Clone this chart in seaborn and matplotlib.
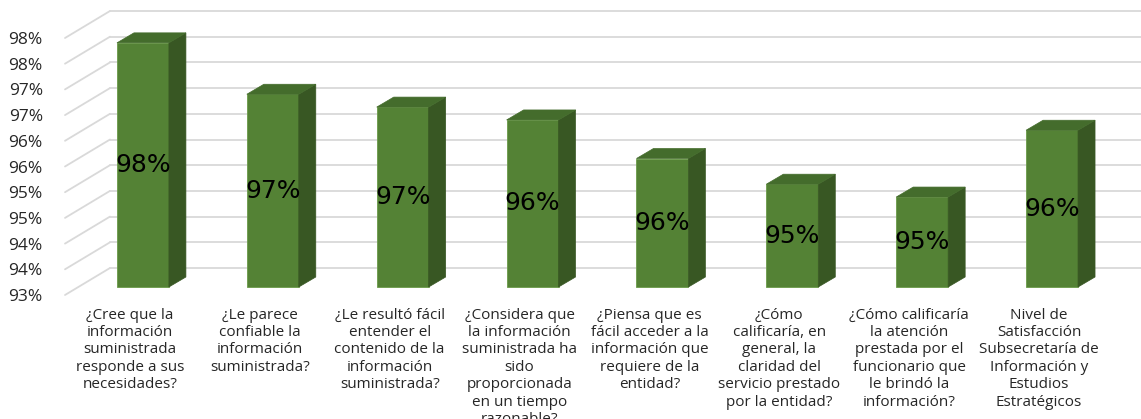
import matplotlib
matplotlib.use("Agg")
import matplotlib.pyplot as plt
import matplotlib.transforms as mtransforms
from matplotlib.patches import Polygon
import seaborn as sns
import numpy as np
import pandas as pd

# --- DATA ---
categories = [
    "¿Cree que la\ninformación\nsuministrada\nresponde a sus\nnecesidades?",
    "¿Le parece\nconfiable la\ninformación\nsuministrada?",
    "¿Le resultó fácil\nentender el\ncontenido de la\ninformación\nsuministrada?",
    "¿Considera que\nla información\nsuministrada ha\nsido\nproporcionada\nen un tiempo\nrazonable?",
    "¿Piensa que es\nfácil acceder a la\ninformación que\nrequiere de la\nentidad?",
    "¿Cómo\ncalificaría, en\ngeneral, la\nclaridad del\nservicio prestado\npor la entidad?",
    "¿Cómo calificaría\nla atención\nprestada por el\nfuncionario que\nle brindó la\ninformación?",
    "Nivel de\nSatisfacción\nSubsecretaría de\nInformación y\nEstudios\nEstratégicos",
]
values = [97.75, 96.75, 96.5, 96.25, 95.5, 95.0, 94.75, 96.05]
y_ticks = [93.0, 93.5, 94.0, 94.5, 95.0, 95.5, 96.0, 96.5, 97.0, 97.5, 98.0]

# --- STYLE ---
FRONT = "#548235"
SIDE = "#385723"
TOP = "#446c2c"
GRID = "#d9d9d9"
DPI = 100
W, H = 1141, 419

# depth offsets in pixels (x right, y up)
BAR_FRONT = (13, 8)
BAR_BACK = (30, 18)
WALL = (45, 27)

sns.set_theme(style="white")
plt.rcParams["font.family"] = ["Open Sans", "DejaVu Sans"]

fig = plt.figure(figsize=(W / DPI, H / DPI), dpi=DPI)
ax = fig.add_axes([65 / W, 124 / H, 1039 / W, 257 / H])

df = pd.DataFrame({"q": categories, "v": values})
sns.barplot(data=df, x="q", y="v", color=FRONT, saturation=1, width=0.4, ax=ax, zorder=3)

ax.set_ylim(93, 98)
ax.set_xlim(-0.5, len(categories) - 0.5)
ax.set_yticks(y_ticks)
ax.set_yticklabels([f"{int(np.floor(t + 0.5))}%" for t in y_ticks])
ax.tick_params(axis="y", length=0, pad=16, labelsize=12.5, labelcolor="#262626")
ax.tick_params(axis="x", length=0, pad=9, labelsize=11, labelcolor="#262626")
for lbl in ax.get_xticklabels():
    lbl.set_linespacing(1.22)
ax.set_xlabel("")
ax.set_ylabel("")
for s in ax.spines.values():
    s.set_visible(False)
ax.patch.set_alpha(0)

ident = mtransforms.IdentityTransform()
shift = mtransforms.ScaledTranslation(BAR_FRONT[0] / DPI, BAR_FRONT[1] / DPI, fig.dpi_scale_trans)

# gridlines on back wall + diagonal lines on the left wall
x0 = ax.transData.transform((-0.5, 93))[0]
x1 = ax.transData.transform((len(categories) - 0.5, 93))[0]
for t in y_ticks:
    yd = ax.transData.transform((0, t))[1]
    ax.plot([x0, x0 + WALL[0]], [yd, yd + WALL[1]], color=GRID, lw=1.3,
            transform=ident, clip_on=False, zorder=0)
    ax.plot([x0 + WALL[0], x1 + WALL[0]], [yd + WALL[1], yd + WALL[1]], color=GRID, lw=1.3,
            transform=ident, clip_on=False, zorder=0)

# 3d bars: front face from the seaborn patches, plus top and side
for p, v in zip(ax.patches, values):
    p.set_y(93)
    p.set_height(v - 93)
    p.set_transform(ax.transData + shift)
    p.set_clip_on(False)
    p.set_edgecolor("#6a9a48")
    p.set_linewidth(0.6)
    xl, xr = p.get_x(), p.get_x() + p.get_width()
    (ax_l, ay_b) = ax.transData.transform((xl, 93))
    (ax_r, ay_t) = ax.transData.transform((xr, v))
    fx, fy = BAR_FRONT
    bx, by = BAR_BACK
    side = [(ax_r + fx, ay_b + fy), (ax_r + fx, ay_t + fy), (ax_r + bx, ay_t + by), (ax_r + bx, ay_b + by)]
    top = [(ax_l + fx, ay_t + fy), (ax_r + fx, ay_t + fy), (ax_r + bx, ay_t + by), (ax_l + bx, ay_t + by)]
    ax.add_patch(Polygon(side, closed=True, facecolor=SIDE, edgecolor=SIDE, lw=0.5,
                         transform=ident, clip_on=False, zorder=3))
    ax.add_patch(Polygon(top, closed=True, facecolor=TOP, edgecolor=TOP, lw=0.5,
                         transform=ident, clip_on=False, zorder=3))
    ax.text(p.get_x() + p.get_width() / 2, (93 + v) / 2, f"{int(np.floor(v + 0.5))}%",
            ha="center", va="center", fontsize=18, color="black",
            family="DejaVu Sans", transform=ax.transData + shift, zorder=5)

fig.savefig("out.png", dpi=DPI)
